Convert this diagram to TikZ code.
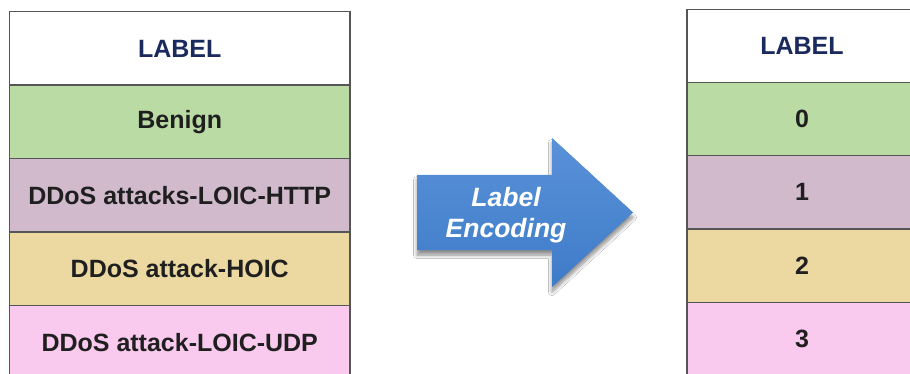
\documentclass[tikz,border=0pt]{standalone}
\usepackage{fontspec}
\setmainfont{Liberation Sans}
\usetikzlibrary{shadows.blur}
\definecolor{rowgreen}{HTML}{BBDBA4}
\definecolor{rowmauve}{HTML}{D0BACC}
\definecolor{rowtan}{HTML}{ECD9A2}
\definecolor{rowpink}{HTML}{F9CAEE}
\definecolor{headnavy}{HTML}{1B2A5E}
\definecolor{cellline}{HTML}{555555}
\definecolor{arrowtop}{HTML}{5A92D9}
\definecolor{arrowbot}{HTML}{3E7BC8}
\tikzset{
  cell/.style={draw=cellline, line width=1.4pt, inner sep=0pt,
    font=\fontsize{25}{29}\selectfont\bfseries, text=black!88},
  lcell/.style={cell, minimum width=340.5pt, minimum height=73.4pt},
  rcell/.style={cell, minimum width=230pt, minimum height=73.2pt},
  headtext/.style={text=headnavy},
  arrowtext/.style={text=white, inner sep=0pt,
    font=\fontsize{26.5}{30}\selectfont\bfseries\itshape}
}
\begin{document}
\begin{tikzpicture}[x=1pt, y=-1pt]
\useasboundingbox (0,0) rectangle (910,374);
\clip (0,0) rectangle (910,374);
\fill[white] (0,0) rectangle (910,374);

% left column: class names
\node[lcell, fill=white, headtext] (lhead) at (179.75,48.5) {LABEL};
\node[lcell, fill=rowgreen]  (lbenign) at (179.75,121.9) {Benign};
\node[lcell, fill=rowmauve]  (lhttp)   at (179.75,195.3) {DDoS attacks-LOIC-HTTP};
\node[lcell, fill=rowtan]    (lhoic)   at (179.75,268.7) {DDoS attack-HOIC};
\node[lcell, fill=rowpink]   (ludp)    at (179.75,342.1) {DDoS attack-LOIC-UDP};

% right column: encoded values
\node[rcell, fill=white, headtext] (rhead) at (802,46) {LABEL};
\node[rcell, fill=rowgreen] (rzero)  at (802,119.2) {0};
\node[rcell, fill=rowmauve] (rone)   at (802,192.4) {1};
\node[rcell, fill=rowtan]   (rtwo)   at (802,265.6) {2};
\node[rcell, fill=rowpink]  (rthree) at (802,338.8) {3};

% block arrow between the columns
\path[top color=arrowtop, bottom color=arrowbot,
      blur shadow={shadow xshift=0pt, shadow yshift=-5pt,
                   shadow blur steps=8, shadow blur radius=3.5pt, shadow opacity=45}]
  (417,175) -- (552,175) -- (552,138) -- (633,212.5) -- (552,287)
  -- (552,250) -- (417,250) -- cycle;
\node[arrowtext, anchor=base] (encA) at (506,207) {Label};
\node[arrowtext, anchor=base] (encB) at (506,237) {Encoding};
\end{tikzpicture}
\end{document}
